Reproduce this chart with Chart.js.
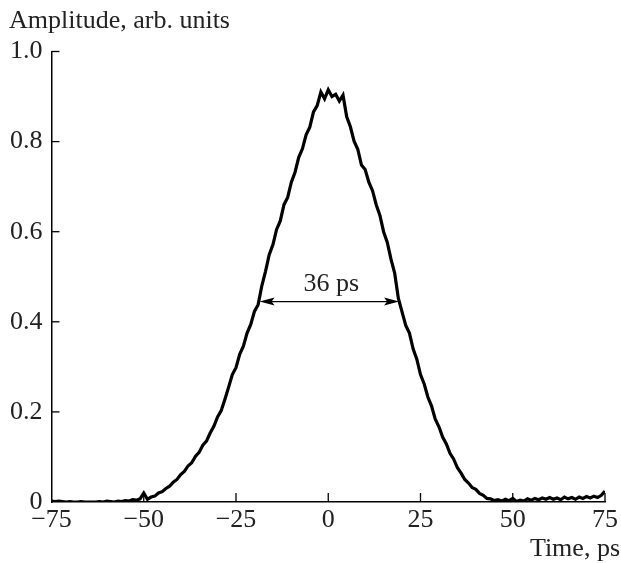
<!DOCTYPE html>
<html>
<head>
<meta charset="utf-8">
<script src="https://cdn.jsdelivr.net/npm/chart.js@4/dist/chart.umd.min.js"></script>
<style>
html,body{margin:0;padding:0;background:#fff;}
#wrap{width:621px;height:563px;position:relative;}
</style>
</head>
<body>
<div id="wrap"><canvas id="c" width="621" height="563"></canvas></div>
<script>
// Time axis samples (ps)
const times = [
-75,-74,-73,-72,-71,-70,-69,-68,-67,-66,
-65,-64,-63,-62,-61,-60,-59,-58,-57,-56,
-55,-54,-53,-52,-51,-50,-49,-48,-47,-46,
-45,-44,-43,-42,-41,-40,-39,-38,-37,-36,
-35,-34,-33,-32,-31,-30,-29,-28,-27,-26,
-25,-24,-23,-22,-21,-20,-19,-18,-17,-16,
-15,-14,-13,-12,-11,-10,-9,-8,-7,-6,
-5,-4,-3,-2,-1,0,1,2,3,4,
5,6,7,8,9,10,11,12,13,14,
15,16,17,18,19,20,21,22,23,24,
25,26,27,28,29,30,31,32,33,34,
35,36,37,38,39,40,41,42,43,44,
45,46,47,48,49,50,51,52,53,54,
55,56,57,58,59,60,61,62,63,64,
65,66,67,68,69,70,71,72,73,74,
75
];
// Amplitude (arb. units)
const amplitude = [
0.002,0.001,0.002,0.001,0.000,0.001,0.000,0.000,0.001,0.000,
0.000,0.000,0.000,0.001,0.000,0.002,0.001,0.000,0.002,0.001,
0.003,0.002,0.005,0.004,0.007,0.020,0.006,0.011,0.013,0.020,
0.023,0.030,0.035,0.044,0.050,0.061,0.068,0.080,0.087,0.101,
0.110,0.126,0.135,0.153,0.168,0.189,0.203,0.228,0.255,0.283,
0.298,0.328,0.346,0.375,0.394,0.423,0.438,0.480,0.512,0.549,
0.571,0.605,0.624,0.660,0.676,0.710,0.732,0.765,0.784,0.815,
0.832,0.866,0.880,0.910,0.895,0.915,0.900,0.905,0.890,0.903,
0.855,0.833,0.801,0.783,0.748,0.738,0.710,0.691,0.660,0.636,
0.600,0.576,0.539,0.508,0.452,0.422,0.392,0.375,0.340,0.317,
0.283,0.262,0.233,0.213,0.184,0.167,0.144,0.129,0.108,0.095,
0.076,0.064,0.050,0.042,0.032,0.028,0.019,0.015,0.008,0.007,
0.003,0.005,0.002,0.006,0.003,0.008,0.001,0.004,0.002,0.007,
0.004,0.008,0.005,0.009,0.006,0.010,0.006,0.009,0.005,0.011,
0.007,0.010,0.006,0.011,0.008,0.012,0.009,0.013,0.010,0.015,
0.024
];
const xTicks = [-75,-50,-25,0,25,50,75];
const yTicks = [0,0.2,0.4,0.6,0.8,1.0];
const xTitle = "Time, ps";
const yTitle = "Amplitude, arb. units";
const fwhmEnds = [-18.6, 19.2];
const fwhmLevel = 0.445;
const fwhmText = "36 ps";
const fwhmTextPos = [0.8, 0.468];

const FONT = '"Liberation Serif", "Times New Roman", serif';
const FSIZE = 26;
const TXT = '#222';

const fmtX = v => (v < 0 ? '\u2212' + Math.abs(v) : String(v));
const fmtY = v => (Math.abs(v) < 1e-9 ? '0' : v.toFixed(1));

const overlay = {
  id: 'overlay',
  afterDraw(chart) {
    const ctx = chart.ctx;
    const xs = chart.scales.x, ys = chart.scales.y;
    ctx.save();
    ctx.strokeStyle = '#000';
    ctx.lineWidth = 1.3;
    const y0 = ys.getPixelForValue(0);
    const xL = xs.getPixelForValue(-75);
    xTicks.forEach(v => {
      if (v === -75) return;
      const px = xs.getPixelForValue(v);
      ctx.beginPath(); ctx.moveTo(px, y0); ctx.lineTo(px, y0 - 9); ctx.stroke();
    });
    yTicks.forEach(v => {
      if (v === 0) return;
      const py = ys.getPixelForValue(v);
      ctx.beginPath(); ctx.moveTo(xL, py); ctx.lineTo(xL + 8, py); ctx.stroke();
    });
    // FWHM arrow
    const ax1 = xs.getPixelForValue(fwhmEnds[0]);
    const ax2 = xs.getPixelForValue(fwhmEnds[1]);
    const ay = ys.getPixelForValue(fwhmLevel);
    ctx.lineWidth = 1.2;
    ctx.beginPath(); ctx.moveTo(ax1 + 6, ay); ctx.lineTo(ax2 - 6, ay); ctx.stroke();
    ctx.fillStyle = '#000';
    const hl = 15, hw = 4;
    ctx.beginPath(); ctx.moveTo(ax1, ay); ctx.lineTo(ax1 + hl, ay - hw); ctx.lineTo(ax1 + hl - 3, ay); ctx.lineTo(ax1 + hl, ay + hw); ctx.closePath(); ctx.fill();
    ctx.beginPath(); ctx.moveTo(ax2, ay); ctx.lineTo(ax2 - hl, ay - hw); ctx.lineTo(ax2 - hl + 3, ay); ctx.lineTo(ax2 - hl, ay + hw); ctx.closePath(); ctx.fill();
    // texts
    ctx.fillStyle = TXT;
    ctx.font = FSIZE + 'px ' + FONT;
    ctx.textBaseline = 'alphabetic';
    ctx.textAlign = 'center';
    ctx.fillText(fwhmText, xs.getPixelForValue(fwhmTextPos[0]), ys.getPixelForValue(fwhmTextPos[1]));
    ctx.textAlign = 'left';
    ctx.fillText(yTitle, 9, 28);
    ctx.textAlign = 'right';
    ctx.fillText(xTitle, 620, 556);
    ctx.restore();
  }
};

new Chart(document.getElementById('c'), {
  type: 'line',
  data: {
    datasets: [{
      data: times.map((t, i) => ({ x: t, y: amplitude[i] })),
      borderColor: '#000',
      borderWidth: 3.2,
      pointRadius: 0,
      tension: 0,
      fill: false
    }]
  },
  options: {
    responsive: false,
    animation: false,
    layout: { padding: { top: 51.5, right: 14.5, left: 0, bottom: 0 } },
    plugins: { legend: { display: false }, tooltip: { enabled: false } },
    scales: {
      x: {
        type: 'linear', min: -75, max: 75,
        afterBuildTicks: s => { s.ticks = xTicks.map(v => ({ value: v })); },
        ticks: { callback: fmtX, font: { family: FONT, size: FSIZE }, color: TXT, padding: 3, maxRotation: 0, autoSkip: false },
        grid: { display: false, drawTicks: false },
        border: { display: true, color: '#000', width: 1.5 },
        afterFit: s => { s.height = 61; }
      },
      y: {
        min: 0, max: 1,
        afterBuildTicks: s => { s.ticks = yTicks.map(v => ({ value: v })); },
        ticks: { callback: fmtY, font: { family: FONT, size: FSIZE }, color: TXT, padding: 9, autoSkip: false },
        grid: { display: false, drawTicks: false },
        border: { display: true, color: '#000', width: 1.5 },
        afterFit: s => { s.width = 51.5; }
      }
    }
  },
  plugins: [overlay]
});
</script>
</body>
</html>
